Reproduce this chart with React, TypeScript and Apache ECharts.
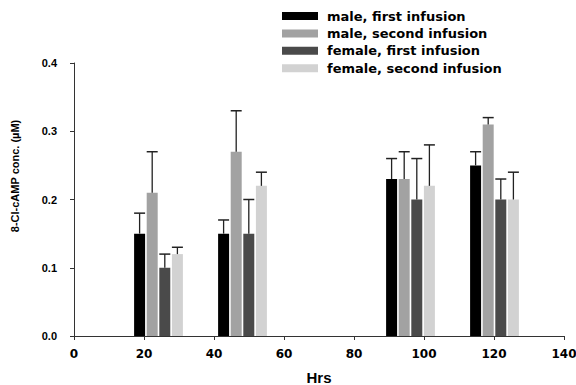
import React, { useEffect, useRef } from "react";
import * as echarts from "echarts";

const hours = [24, 48, 96, 120];
const seriesNames = [
  "male, first infusion",
  "male, second infusion",
  "female, first infusion",
  "female, second infusion",
];
const maleFirst = [0.15, 0.15, 0.23, 0.25];
const maleFirstErr = [0.18, 0.17, 0.26, 0.27];
const maleSecond = [0.21, 0.27, 0.23, 0.31];
const maleSecondErr = [0.27, 0.33, 0.27, 0.32];
const femaleFirst = [0.1, 0.15, 0.2, 0.2];
const femaleFirstErr = [0.12, 0.2, 0.26, 0.23];
const femaleSecond = [0.12, 0.22, 0.22, 0.2];
const femaleSecondErr = [0.13, 0.24, 0.28, 0.24];
const xTicks = [0, 20, 40, 60, 80, 100, 120, 140];
const yTicks = [0, 0.1, 0.2, 0.3, 0.4];

const values = [maleFirst, maleSecond, femaleFirst, femaleSecond];
const errs = [maleFirstErr, maleSecondErr, femaleFirstErr, femaleSecondErr];
const colors = ["#000000", "#a2a2a2", "#4a4a4a", "#d2d2d2"];

const FONT = "Arial, 'Liberation Sans', sans-serif";
const WIDE = "'DejaVu Sans', sans-serif";

export default function App() {
  const ref = useRef<HTMLDivElement>(null);
  useEffect(() => {
    document.body.style.margin = "0";
    const chart = echarts.init(ref.current!, null, { renderer: "svg" });
    const series = seriesNames.map((name, si) => ({
      name,
      type: "custom",
      itemStyle: { color: colors[si] },
      data: hours.map((h, i) => [h, values[si][i], errs[si][i]]),
      renderItem: (params: any, api: any) => {
        const x = api.value(0);
        const v = api.value(1);
        const e = api.value(2);
        const base = api.coord([x, 0]);
        const top = api.coord([x, v]);
        const errTop = api.coord([x, e]);
        const bw = 11;
        const cx = base[0] + (si - 1.5) * 12.6 + 0.5;
        return {
          type: "group",
          children: [
            {
              type: "rect",
              shape: { x: cx - bw / 2, y: top[1], width: bw, height: base[1] - top[1] },
              style: { fill: colors[si] },
            },
            {
              type: "line",
              shape: { x1: cx, y1: top[1], x2: cx, y2: errTop[1] },
              style: { stroke: "#222", lineWidth: 1.3 },
            },
            {
              type: "line",
              shape: { x1: cx - bw / 2, y1: errTop[1], x2: cx + bw / 2, y2: errTop[1] },
              style: { stroke: "#222", lineWidth: 1.5 },
            },
          ],
        };
      },
    }));
    chart.setOption({
      animation: false,
      grid: { left: 74, right: 12, top: 63, bottom: 49, containLabel: false, outerBoundsMode: "none" },
      legend: {
        orient: "vertical",
        left: 282,
        top: 9,
        padding: 0,
        itemWidth: 36,
        itemHeight: 8,
        itemGap: 3.4,
        icon: "rect",
        data: seriesNames,
        textStyle: {
          fontFamily: WIDE,
          fontWeight: "bold",
          fontSize: 13,
          color: "#000",
          lineHeight: 14,
          padding: [0, 0, 0, 4],
        },
      },
      xAxis: {
        type: "value",
        min: xTicks[0],
        max: xTicks[xTicks.length - 1],
        interval: 20,
        name: "Hrs",
        nameLocation: "middle",
        nameGap: 34,
        nameTextStyle: { fontFamily: FONT, fontWeight: "bold", fontSize: 15, color: "#000" },
        axisLine: { lineStyle: { color: "#333", width: 1 } },
        axisTick: { lineStyle: { color: "#333" }, length: 4 },
        axisLabel: { fontFamily: WIDE, fontWeight: "bold", fontSize: 12, color: "#000", margin: 12 },
        splitLine: { show: false },
      },
      yAxis: {
        type: "value",
        min: yTicks[0],
        max: yTicks[yTicks.length - 1],
        interval: 0.1,
        axisLine: { show: true, lineStyle: { color: "#333", width: 1 } },
        axisTick: { show: true, lineStyle: { color: "#333" }, length: 4 },
        axisLabel: {
          fontFamily: FONT,
          fontWeight: "bold",
          fontSize: 11,
          color: "#000",
          margin: 17,
          formatter: (v: number) => v.toFixed(1),
        },
        splitLine: { show: false },
      },
      graphic: [
        {
          type: "text",
          x: 15,
          y: 176,
          rotation: Math.PI / 2,
          style: {
            text: "8-Cl-cAMP conc. (µM)",
            font: `bold 11px ${FONT}`,
            fill: "#000",
            align: "center",
            verticalAlign: "middle",
          },
        },
      ],
      series,
    });
    return () => chart.dispose();
  }, []);
  return <div ref={ref} style={{ width: 576, height: 385 }} />;
}
